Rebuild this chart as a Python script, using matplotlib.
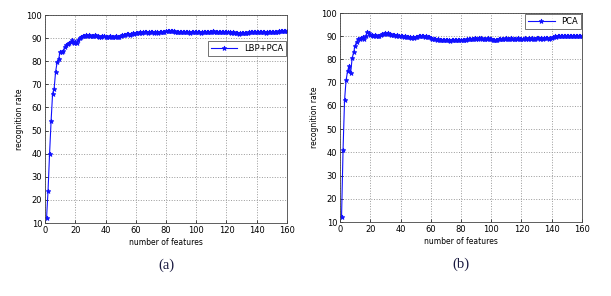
import matplotlib
matplotlib.use("Agg")
import matplotlib.pyplot as plt

# recognition rate vs number of features
lbp_pca = [12, 24, 40, 54, 66, 68, 75.5, 79.5, 81, 84, 84, 84.5, 86, 87, 87.5, 88, 88.5, 89, 88, 88.5,
           88, 89, 90, 90.5, 91, 91, 91.2, 91, 91.3, 91, 90.8, 91, 91.2, 91, 90.8, 90.5, 90.7, 91, 90.8, 90.5,
           90.7, 90.5, 90.8, 90.5, 90.3, 90.6, 90.8, 90.5, 90.7, 91, 91.2, 91.5, 91.3, 91.6, 91.8, 91.5, 91.7, 92, 91.8, 92,
           92, 92.2, 92.5, 92.3, 92.5, 92.7, 92.5, 92.3, 92.5, 92.7, 92.5, 92.4, 92.6, 92.5, 92.3, 92.5, 92.7, 92.5, 92.8, 93,
           93, 93.2, 93, 93.2, 93, 92.8, 92.6, 92.8, 92.5, 92.7, 92.5, 92.6, 92.8, 92.5, 92.6, 92.4, 92.6, 92.5, 92.7, 92.5,
           92.5, 92.7, 92.4, 92.6, 92.8, 92.6, 92.5, 92.7, 92.6, 92.8, 93, 92.8, 92.6, 92.8, 92.7, 92.5, 92.7, 92.8, 92.6, 92.8,
           92.7, 92.5, 92.3, 92.5, 92.2, 92, 92.2, 91.9, 92.1, 92.3, 92, 92.2, 92.4, 92.3, 92.5, 92.7, 92.5, 92.6, 92.8, 92.5,
           92.6, 92.8, 92.5, 92.7, 92.6, 92.4, 92.6, 92.8, 92.6, 92.5, 92.7, 92.6, 92.8, 92.7, 92.9, 93.1, 93, 93.2, 93.1, 93]

pca = [12, 41, 62.5, 71, 75, 77, 74, 80.5, 83, 86, 87.5, 89, 89, 89.2, 89.5, 88.8, 90, 92, 91.2, 90.5,
       90.5, 90.3, 90.5, 90.2, 90, 90.3, 90.5, 90.8, 91, 91.2, 91, 91.3, 91, 90.7, 90.5, 90.6, 90.3, 90.4, 90.2, 90,
       90, 89.8, 89.9, 89.7, 89.5, 89.6, 89.4, 89.5, 89.3, 89.5, 89.7, 89.9, 90, 90.2, 90, 89.8, 90, 89.7, 89.5, 89.2,
       89, 88.8, 88.7, 88.5, 88.6, 88.4, 88.5, 88.3, 88.5, 88.4, 88.2, 88.3, 88.1, 88.3, 88.2, 88.4, 88.2, 88.3, 88.5, 88.3,
       88.4, 88.2, 88.5, 88.7, 88.9, 89, 88.8, 89, 89.2, 89, 88.9, 89.1, 89.2, 89, 88.8, 89, 88.9, 89.1, 88.8, 88.6,
       88.5, 88.3, 88.5, 88.4, 88.6, 88.8, 89, 88.8, 89, 89.1, 88.9, 89, 89.1, 88.9, 89, 88.8, 89, 89.1, 88.9, 89,
       89, 89.1, 88.9, 89, 89.2, 89, 89.1, 88.9, 89, 89.2, 89.1, 89, 89.2, 89, 89.1, 89.3, 89.1, 89, 89.2, 89.4,
       89.8, 90, 89.8, 90, 90.2, 90, 89.9, 90.1, 90, 90.2, 90.1, 89.9, 90, 90.2, 90.1, 90, 90.2, 90, 89.9, 90.1]

panels = [("LBP+PCA", lbp_pca, "(a)"), ("PCA", pca, "(b)")]

fig = plt.figure(figsize=(6.11, 2.96), dpi=100)
rects = [[0.0737, 0.2466, 0.396, 0.7027], [0.5565, 0.25, 0.396, 0.706]]
legend_pos = [(1.0, 0.88), (1.0, 1.0)]

for i, (name, y, tag) in enumerate(panels):
    ax = fig.add_axes(rects[i])
    x = list(range(1, len(y) + 1))
    ax.plot(x, y, color="#1010ff", lw=0.8, marker="*", markersize=3.5,
            markeredgewidth=0.6, label=name)
    ax.set_xlim(0, 160)
    ax.set_ylim(10, 100)
    ax.set_xticks(range(0, 161, 20))
    ax.set_yticks(range(10, 101, 10))
    ax.grid(True, linestyle=":", color="#999999", lw=0.7)
    ax.tick_params(labelsize=6, length=2, width=0.5, direction="in", pad=2)
    for s in ax.spines.values():
        s.set_linewidth(0.6)
        s.set_color("#444444")
    ax.set_xlabel("number of features", fontsize=5.5, labelpad=2)
    ax.set_ylabel("recognition rate", fontsize=5.5, labelpad=2)
    leg = ax.legend(loc="upper right", bbox_to_anchor=legend_pos[i], fontsize=6,
                    fancybox=False, edgecolor="#333333", handlelength=3.2,
                    borderpad=0.35, borderaxespad=0.1)
    leg.get_frame().set_linewidth(0.6)
    ax.text(0.5, -0.17, tag, transform=ax.transAxes, ha="center", va="top",
            fontsize=10.5, family="Liberation Serif", color="#1a1a40")

fig.savefig("out.png", dpi=100)
